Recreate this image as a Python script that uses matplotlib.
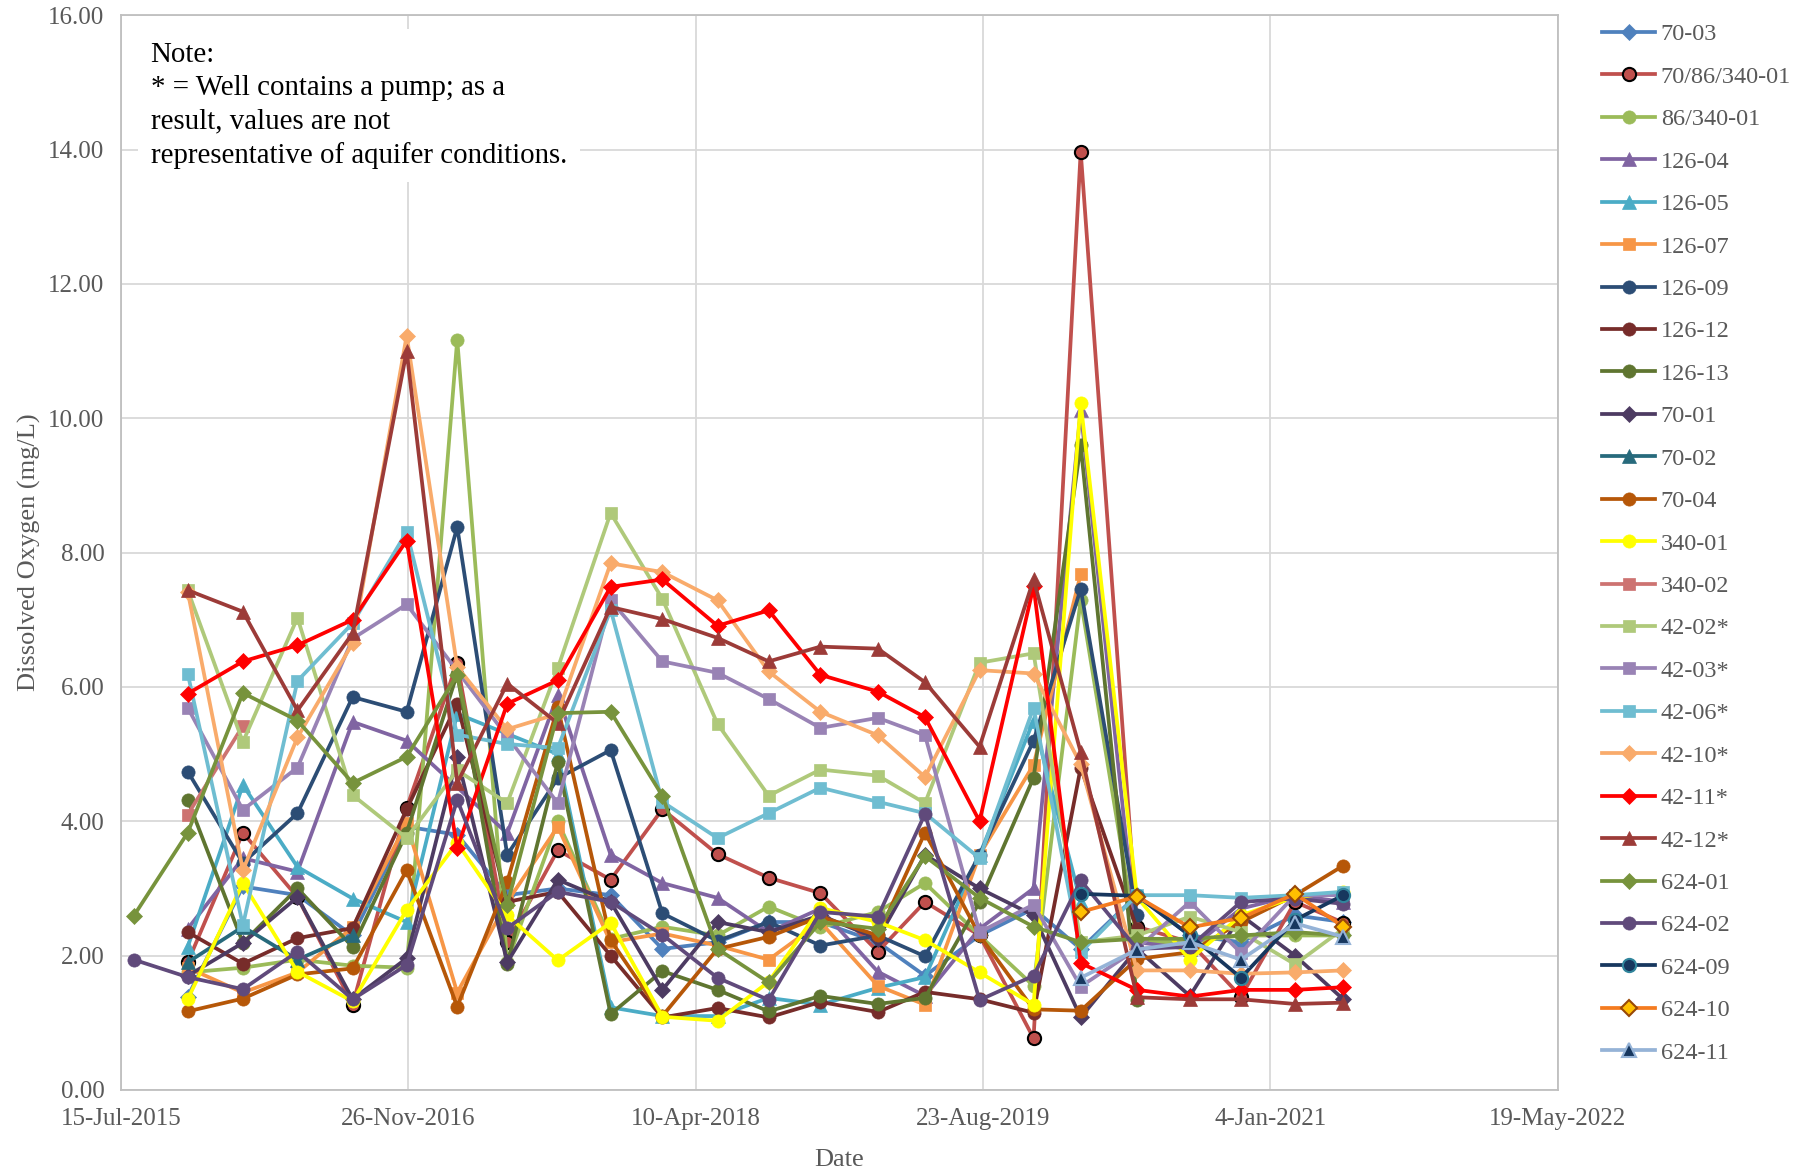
import numpy as np
import matplotlib
matplotlib.use('Agg')
import matplotlib.pyplot as plt
import matplotlib.dates as mdates
from matplotlib.ticker import FuncFormatter, MultipleLocator
import datetime as dt

nan = np.nan

# Sampling dates (quarterly)
dates = ['2015-08-06', '2015-11-08', '2016-02-12', '2016-05-17', '2016-08-21', '2016-11-23',
         '2017-02-19', '2017-05-17', '2017-08-13', '2017-11-13', '2018-02-11', '2018-05-18',
         '2018-08-15', '2018-11-13', '2019-02-21', '2019-05-14', '2019-08-17', '2019-11-19',
         '2020-02-09', '2020-05-17', '2020-08-17', '2020-11-14', '2021-02-16', '2021-05-11']

# Dissolved oxygen (mg/L) per well
w70_03 = [nan, 1.39, 3.03, 2.90, 2.30, 3.92, 3.80, 2.90, 3.00, 2.90, 2.10, 2.20, 2.50, 2.50, 2.20, 1.70, 2.30, 2.70, 2.10, 2.90, 2.30, 2.20, 2.60, 2.50]
w70_86_340_01 = [nan, 1.90, 3.83, 2.87, 1.27, 4.20, 6.36, 2.20, 3.57, 3.13, 4.18, 3.51, 3.16, 2.93, 2.06, 2.80, 2.30, 0.77, 13.97, 2.43, 2.20, 1.39, 2.80, 2.49]
w86_340_01 = [nan, 1.75, 1.82, 1.94, 1.85, 1.82, 11.17, 1.90, 4.00, 2.25, 2.43, 2.30, 2.73, 2.42, 2.65, 3.08, 2.30, 1.55, 7.30, 2.20, 2.20, 2.30, 2.30, 2.30]
w126_04 = [nan, 2.40, 3.45, 3.25, 5.48, 5.20, nan, 3.82, 5.88, 3.50, 3.08, 2.86, 2.35, 2.70, 1.76, 1.40, 2.40, 3.00, 10.12, 2.20, 2.10, 2.70, 2.90, 2.80]
w126_05 = [nan, 2.13, 4.54, 3.32, 2.85, 2.50, 5.60, nan, 5.00, 1.23, 1.10, 1.10, 1.37, 1.27, 1.52, 1.68, 3.50, 5.50, 2.80, nan, nan, nan, nan, nan]
w126_07 = [nan, 1.82, 1.45, 1.75, 2.42, 3.97, 1.45, 2.80, 3.92, 2.20, 2.33, 2.15, 1.94, 2.50, 1.55, 1.27, 3.50, 4.84, 7.68, nan, nan, nan, nan, nan]
w126_09 = [nan, 4.74, 3.38, 4.12, 5.85, 5.63, 8.38, 3.50, 4.64, 5.06, 2.63, 2.22, 2.50, 2.15, 2.30, 1.99, 3.50, 5.20, 7.46, 2.60, nan, nan, nan, nan]
w126_12 = [nan, 2.35, 1.88, 2.26, 2.41, 4.18, 5.75, 2.80, 2.95, 2.00, 1.08, 1.22, 1.08, 1.31, 1.16, 1.46, 1.35, 1.15, 4.80, 2.40, nan, nan, nan, nan]
w126_13 = [nan, 4.32, 2.19, 3.00, 2.13, 3.83, 6.20, 1.87, 4.88, 1.13, 1.77, 1.49, 1.17, 1.40, 1.28, 1.37, 2.80, 4.65, 9.60, 1.34, nan, nan, nan, nan]
w70_01 = [nan, 1.70, 2.19, 2.87, 1.35, 1.96, 4.96, 1.90, 3.13, 2.80, 1.49, 2.50, 2.35, 2.60, 2.25, 3.50, 3.00, 2.60, 1.08, 2.10, 1.40, 2.60, 2.00, 1.35]
w70_02 = [nan, 1.90, 2.43, 1.94, 2.30, nan, nan, nan, nan, nan, nan, nan, nan, nan, nan, nan, nan, nan, nan, nan, nan, nan, nan, nan]
w70_04 = [nan, 1.17, 1.36, 1.72, 1.81, 3.27, 1.24, 3.10, 5.70, 2.23, 1.10, 2.10, 2.28, 2.58, 2.30, 3.83, 2.30, 1.20, 1.18, 1.95, 2.05, 2.50, 2.90, 3.34]
w340_01 = [nan, 1.35, 3.08, 1.76, 1.32, 2.68, 3.68, 2.60, 1.93, 2.49, 1.09, 1.03, 1.61, 2.71, 2.50, 2.23, 1.75, 1.27, 10.23, 2.87, 1.94, 2.60, 2.87, 2.95]
w340_02 = [nan, 4.10, 5.42, nan, nan, nan, nan, nan, nan, nan, nan, nan, nan, nan, nan, nan, nan, nan, nan, nan, nan, nan, nan, nan]
w42_02 = [nan, 7.44, 5.18, 7.03, 4.39, 3.75, 4.76, 4.27, 6.28, 8.59, 7.31, 5.45, 4.38, 4.77, 4.68, 4.27, 6.36, 6.50, 2.20, 2.30, 2.58, 2.35, 1.87, 2.40]
w42_03 = [nan, 5.69, 4.17, 4.80, 6.72, 7.23, nan, 5.26, 4.27, 7.29, 6.38, 6.21, 5.82, 5.39, 5.54, 5.28, 2.35, 2.76, 1.54, 2.10, 2.80, 2.04, 2.90, 2.90]
w42_06 = [nan, 6.20, 2.45, 6.09, 6.95, 8.31, 5.29, 5.15, 5.09, 7.15, 4.29, 3.75, 4.12, 4.50, 4.29, 4.12, 3.45, 5.69, 2.05, 2.90, 2.90, 2.86, 2.90, 2.95]
w42_10 = [nan, 7.42, 3.27, 5.25, 6.65, 11.23, 6.30, 5.37, 5.60, 7.84, 7.71, 7.29, 6.23, 5.63, 5.28, 4.66, 6.25, 6.20, 4.85, 1.78, 1.78, 1.73, 1.75, 1.78]
w42_11 = [nan, 5.90, 6.38, 6.62, 7.00, 8.18, 3.60, 5.75, 6.10, 7.49, 7.60, 6.91, 7.14, 6.18, 5.93, 5.55, 4.00, 7.50, 1.89, 1.49, 1.39, 1.49, 1.49, 1.53]
w42_12 = [nan, 7.44, 7.12, 5.65, 6.80, 11.00, 4.57, 6.05, 5.46, 7.19, 7.01, 6.73, 6.38, 6.60, 6.57, 6.07, 5.11, 7.60, 5.03, 1.38, 1.35, 1.35, 1.28, 1.30]
w624_01 = [2.59, 3.83, 5.91, 5.50, 4.57, 4.96, 6.18, 2.76, 5.61, 5.63, 4.38, 2.10, 1.60, 2.50, 2.40, 3.48, 2.86, 2.43, 2.20, 2.25, 2.25, 2.30, 2.35, 2.30]
w624_02 = [1.94, 1.68, 1.50, 2.06, 1.35, 1.86, 4.32, 2.41, 2.95, 2.80, 2.31, 1.67, 1.34, 2.65, 2.58, 4.11, 1.34, 1.70, 3.12, 2.10, 2.13, 2.80, 2.85, 2.77]
w624_09 = [nan] * 18 + [2.92, 2.89, 2.30, 1.67, 2.53, 2.90]
w624_10 = [nan] * 18 + [2.65, 2.88, 2.42, 2.56, 2.92, 2.43]
w624_11 = [nan] * 18 + [1.67, 2.09, 2.20, 1.94, 2.48, 2.28]

# label, values, line colour, marker, marker face, marker edge
series = [
    ('70-03', w70_03, '#4F81BD', 'D', '#4F81BD', '#4F81BD'),
    ('70/86/340-01', w70_86_340_01, '#C0504D', 'o', '#C0504D', 'black'),
    ('86/340-01', w86_340_01, '#9BBB59', 'o', '#9BBB59', '#9BBB59'),
    ('126-04', w126_04, '#8064A2', '^', '#8064A2', '#8064A2'),
    ('126-05', w126_05, '#4BACC6', '^', '#4BACC6', '#4BACC6'),
    ('126-07', w126_07, '#F79646', 's', '#F79646', '#F79646'),
    ('126-09', w126_09, '#2C4D75', 'o', '#2C4D75', '#2C4D75'),
    ('126-12', w126_12, '#772C2A', 'o', '#772C2A', '#772C2A'),
    ('126-13', w126_13, '#5F7530', 'o', '#5F7530', '#5F7530'),
    ('70-01', w70_01, '#4D3B62', 'D', '#4D3B62', '#4D3B62'),
    ('70-02', w70_02, '#276A7C', '^', '#276A7C', '#276A7C'),
    ('70-04', w70_04, '#B65708', 'o', '#B65708', '#B65708'),
    ('340-01', w340_01, '#FFFF00', 'o', '#FFFF00', '#FFFF00'),
    ('340-02', w340_02, '#CD7371', 's', '#CD7371', '#CD7371'),
    ('42-02*', w42_02, '#AFC97A', 's', '#AFC97A', '#AFC97A'),
    ('42-03*', w42_03, '#9983B5', 's', '#9983B5', '#9983B5'),
    ('42-06*', w42_06, '#6FBDD1', 's', '#6FBDD1', '#6FBDD1'),
    ('42-10*', w42_10, '#F9AB6B', 'D', '#F9AB6B', '#F9AB6B'),
    ('42-11*', w42_11, '#FF0000', 'D', '#FF0000', '#FF0000'),
    ('42-12*', w42_12, '#9C3B38', '^', '#9C3B38', '#9C3B38'),
    ('624-01', w624_01, '#77933C', 'D', '#77933C', '#77933C'),
    ('624-02', w624_02, '#604A7B', 'o', '#604A7B', '#604A7B'),
    ('624-09', w624_09, '#17375E', 'o', '#17375E', '#31859C'),
    ('624-10', w624_10, '#F47B20', 'D', '#FFC000', '#984807'),
    ('624-11', w624_11, '#95B3D7', '^', '#17375E', '#95B3D7'),
]

msizes = {'D': 8, 'o': 9.5, 's': 9, '^': 10}

plt.rcParams['font.family'] = ['Liberation Serif', 'DejaVu Serif']

fig = plt.figure(figsize=(18.07, 11.72), dpi=100)
ax = fig.add_axes([0.067, 0.070, 0.795, 0.917])

x = np.array([mdates.date2num(dt.datetime.strptime(d, '%Y-%m-%d')) for d in dates])

for i, (lab, vals, col, mk, mfc, mec) in enumerate(series):
    v = np.array(vals, dtype=float)
    ok = ~np.isnan(v)
    ax.plot(x[ok], v[ok], color=col, lw=2.7, marker=mk, ms=msizes[mk],
            mfc=mfc, mec=mec, mew=1.5 if mec != mfc else 0.5, label=lab, zorder=5 + i * 0.01)

start = mdates.date2num(dt.datetime(2015, 7, 15))
ax.set_xlim(start, start + 2500)
ax.set_xticks([start + 500 * k for k in range(6)])
ax.xaxis.set_major_formatter(FuncFormatter(
    lambda v, p: mdates.num2date(v).strftime('%d-%b-%Y').lstrip('0')))
ax.set_ylim(0, 16)
ax.yaxis.set_major_locator(MultipleLocator(2))
ax.yaxis.set_major_formatter(FuncFormatter(lambda v, p: '%.2f' % v))

ax.grid(True, color='#D9D9D9', lw=1.3, zorder=0)
ax.set_axisbelow(True)
for s in ax.spines.values():
    s.set_color('#BFBFBF')
    s.set_linewidth(1.3)
ax.tick_params(length=0, labelsize=18, colors='#595959', pad=12)
ax.tick_params(axis='x', pad=13)

ax.set_xlabel('Date', fontsize=19, color='#595959', labelpad=14)
ax.set_ylabel('Dissolved Oxygen (mg/L)', fontsize=19, color='#595959', labelpad=5)

note = ('Note:\n* = Well contains a pump; as a\nresult, values are not\n'
        'representative of aquifer conditions.')
ax.text(0.0205, 0.975, note, transform=ax.transAxes, ha='left', va='top',
        fontsize=20.8, color='black', linespacing=1.36, zorder=20,
        bbox=dict(facecolor='white', edgecolor='none', boxstyle='square,pad=0.45'))

leg = ax.legend(loc='upper left', bbox_to_anchor=(0.8865, 0.980), bbox_transform=fig.transFigure,
                frameon=False, fontsize=17.5, labelspacing=0.84, handlelength=2.2,
                handletextpad=0.22, borderaxespad=0, borderpad=0)
for t in leg.get_texts():
    t.set_color('#595959')

fig.savefig('out.png', dpi=100)
